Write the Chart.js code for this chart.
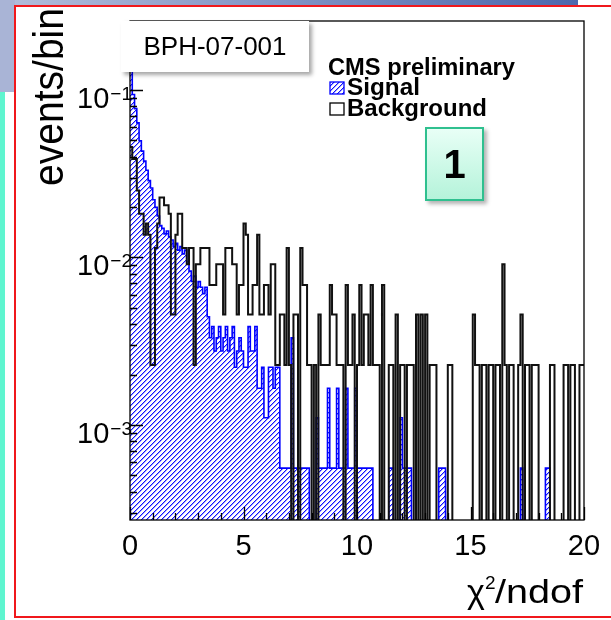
<!DOCTYPE html>
<html>
<head>
<meta charset="utf-8">
<script src="https://cdn.jsdelivr.net/npm/chart.js@4.4.1/dist/chart.umd.min.js"></script>
<style>
  body { margin: 0; width: 611px; height: 620px; overflow: hidden; background: #fff; position: relative;
         font-family: "Liberation Sans", Arial, sans-serif; }
  #topband { position: absolute; left: 0; top: 0; width: 578px; height: 6px;
             background: linear-gradient(90deg, #b3bedb, #4d68ad); }
  #leftband { position: absolute; left: 0; top: 0; width: 15px; height: 92px; background: #a9b4d6; }
  #cyan { position: absolute; left: 0; top: 92px; width: 5px; height: 528px; background: #5ff5cf; }
  #redframe { position: absolute; left: 14px; top: 5px; width: 600px; height: 613px;
              border: 2px solid #f0181c; box-sizing: border-box; }
  canvas { position: absolute; left: 0; top: 0; }
  #tag { position: absolute; left: 121px; top: 21px; width: 188px; height: 51px; background: #fff;
         box-shadow: 3px 3px 4px rgba(0,0,0,0.35); font-size: 26px; line-height: 51px; text-align: center; }
  #num { position: absolute; left: 425px; top: 127px; width: 59px; height: 74px; box-sizing: border-box;
         border: 2px solid #2fc08f; background: linear-gradient(180deg, #e8fff6, #b5f3da);
         box-shadow: 3px 3px 4px rgba(0,0,0,0.3); font-weight: bold; font-size: 40px; line-height: 70px; text-align: center; }
</style>
</head>
<body>
<div id="topband"></div>
<div id="leftband"></div>
<div id="cyan"></div>
<div id="redframe"></div>
<canvas id="histo" width="611" height="620"></canvas>
<div id="tag">BPH-07-001</div>
<div id="num">1</div>
<script>
// histogramme: 200 bins de 0.1 en chi2/ndof, contenus (entrees par bin)
const binWidth = 0.1;
const signalCounts = [
  420,170,140,115,90,78,68,60,52,47, 40,36,32,28,27,25,26,24,23,21,
  22,20,21,19,20,17,15,13,14,12, 13,12,11,12,8,6,7,5,6,7,
  5,6,7,5,6,7,4,5,6,5, 4,4,7,5,5,7,3,3,4,2,
  2,4,4,3,4,4,1,1,1,1, 1,6,1,1,1,1,1,1,1,0,
  0,0,2,1,1,1,1,3,1,1, 1,3,1,1,1,3,1,1,1,3,
  1,1,1,1,1,1,1,0,0,0, 0,0,0,0,1,1,0,0,0,2,
  1,1,1,1,0,0,0,0,0,0, 0,0,0,0,0,0,1,1,1,0,
  0,0,0,0,0,0,0,0,0,0, 0,0,0,0,0,0,0,0,0,0,
  0,0,0,0,0,0,0,0,0,0, 0,0,1,0,0,0,0,0,0,0,
  0,0,0,1,1,0,0,0,0,0, 0,0,0,0,0,0,0,0,0,0
];
const backgroundCounts = [
  20,17,17,11,8,8,6,7,6,1, 1,5,7,10,10,9,9,8,2,2,
  6,8,8,5,5,4,5,5,1,4, 4,5,5,5,5,3,3,3,4,4,
  4,2,5,5,5,4,4,2,3,3, 7,6,2,2,3,3,6,2,2,3,
  3,2,4,4,1,1,2,2,1,5, 1,0,2,2,0,5,3,3,1,1,
  0,1,0,2,1,1,1,1,3,2, 2,1,1,1,0,3,1,1,2,0,
  1,3,1,2,2,1,3,1,1,1, 0,3,0,0,1,1,0,2,0,1,
  1,0,1,1,1,0,2,0,2,0, 2,0,1,1,1,0,0,0,0,0,
  1,1,0,0,0,0,0,0,0,0, 0,2,1,1,0,1,1,0,1,1,
  0,1,1,0,4,1,0,1,1,0, 0,1,2,0,1,1,0,1,1,1,
  0,0,0,0,0,1,1,0,0,0, 0,1,1,0,1,1,0,0,1,1
];
// poids d'une entree (normalisation a l'unite)
const signalWeight = 5.53e-4;
const backgroundWeight = 2.28e-3;

const xTicks = [0, 5, 10, 15, 20];
const yDecades = [-3, -2, -1];
const yMin = 2.71e-4;
const yMax = 0.258;
const emptyBin = 1e-6;

function toSteps(counts, w) {
  let pts = counts.map((c, i) => ({ x: i * binWidth, y: c > 0 ? c * w : emptyBin }));
  pts.push({ x: counts.length * binWidth, y: pts[pts.length - 1].y });
  return pts;
}

// hachures "/" bleues, pixel par pixel
function hatch() {
  const s = 5;
  const c = document.createElement('canvas');
  c.width = s; c.height = s;
  const g = c.getContext('2d');
  for (let i = 0; i < s; i++) {
    for (let j = 0; j < s; j++) {
      const k = (i + j) % s;
      if (k === 0) { g.fillStyle = '#1010ff'; g.fillRect(i, j, 1, 1); }
      else if (k === 1) { g.fillStyle = '#a0a0ff'; g.fillRect(i, j, 1, 1); }
    }
  }
  return g.createPattern(c, 'repeat');
}

const FONT = '"Liberation Sans", Arial, sans-serif';

// texte ecrit a une largeur donnee
function fitText(ctx, txt, x, y, width) {
  const w = ctx.measureText(txt).width;
  ctx.save();
  ctx.translate(x, y);
  ctx.scale(width / w, 1);
  ctx.fillText(txt, 0, 0);
  ctx.restore();
}

const decor = {
  id: 'decor',
  afterDatasetsDraw(chart) {
    const { ctx, chartArea: a, scales: { x, y } } = chart;
    ctx.save();
    ctx.strokeStyle = '#000';
    ctx.lineWidth = 1.3;
    ctx.strokeRect(a.left, a.top, a.right - a.left, a.bottom - a.top);
    // graduations y (log)
    ctx.beginPath();
    for (let e = -4; e <= 0; e++) {
      for (let m = 1; m <= 9; m++) {
        const v = m * Math.pow(10, e);
        if (v < yMin || v > yMax) continue;
        const py = Math.round(y.getPixelForValue(v)) + 0.5;
        const len = m === 1 ? 13 : 7;
        ctx.moveTo(a.left, py); ctx.lineTo(a.left + len, py);
      }
    }
    // graduations x
    for (let t = 0; t <= 20; t++) {
      const px = Math.round(x.getPixelForValue(t)) + 0.5;
      const len = t % 5 === 0 ? 13 : 7;
      ctx.moveTo(px, a.bottom); ctx.lineTo(px, a.bottom - len);
    }
    ctx.stroke();
    ctx.restore();
  },
  afterDraw(chart) {
    const { ctx, chartArea: a, scales: { y } } = chart;
    ctx.save();
    ctx.fillStyle = '#000';
    ctx.textBaseline = 'alphabetic';
    // etiquettes 10^n
    yDecades.forEach(e => {
      const py = y.getPixelForValue(Math.pow(10, e));
      ctx.font = '19px ' + FONT;
      ctx.textAlign = 'right';
      const ex = '\u2212' + (-e);
      const ew = ctx.measureText(ex).width;
      ctx.fillText(ex, a.left + 2, py + 10);
      ctx.font = '29px ' + FONT;
      ctx.fillText('10', a.left + 1 - ew, py + 18);
    });
    // titre x, cale a droite sur le cadre
    ctx.textAlign = 'left';
    ctx.font = '34px ' + FONT;
    ctx.fillText('\u03c7', 467, 603);
    ctx.font = '19px ' + FONT;
    ctx.fillText('2', 485, 589);
    ctx.font = '34px ' + FONT;
    fitText(ctx, '/ndof', 495, 603, 88);
    // titre y
    ctx.save();
    ctx.translate(63, 8);
    ctx.rotate(-Math.PI / 2);
    ctx.textAlign = 'left';
    ctx.font = '42px ' + FONT;
    fitText(ctx, 'events/bin', -178, 0, 178);
    ctx.restore();
    // legende
    ctx.textAlign = 'left';
    ctx.font = 'bold 23px ' + FONT;
    fitText(ctx, 'CMS preliminary', 328, 75, 187);
    fitText(ctx, 'Signal', 347, 95, 73);
    fitText(ctx, 'Background', 347, 116, 140);
    ctx.fillStyle = hatch();
    ctx.fillRect(330, 82, 14, 12);
    ctx.lineWidth = 1.3;
    ctx.strokeStyle = '#0000ff';
    ctx.strokeRect(330, 82, 14, 12);
    ctx.strokeStyle = '#000';
    ctx.strokeRect(330, 103, 14, 12);
    ctx.restore();
  }
};

new Chart(document.getElementById('histo'), {
  type: 'line',
  data: {
    datasets: [
      {
        label: 'Background',
        data: toSteps(backgroundCounts, backgroundWeight),
        stepped: true,
        borderColor: '#111',
        borderWidth: 2,
        pointRadius: 0,
        fill: false,
        order: 0
      },
      {
        label: 'Signal',
        data: toSteps(signalCounts, signalWeight),
        stepped: true,
        borderColor: '#0000ff',
        borderWidth: 1.6,
        pointRadius: 0,
        fill: 'start',
        backgroundColor: hatch(),
        order: 1
      }
    ]
  },
  options: {
    responsive: false,
    animation: false,
    devicePixelRatio: 1,
    layout: { padding: { left: 130, top: 21, right: 27, bottom: 0 } },
    plugins: { legend: { display: false }, tooltip: { enabled: false } },
    scales: {
      x: {
        type: 'linear', min: 0, max: 20,
        grid: { display: false },
        border: { display: false },
        ticks: { stepSize: 5, color: '#000', font: { size: 29, family: FONT }, padding: 2, maxRotation: 0,
                 callback: v => xTicks.includes(v) ? String(v) : null },
        afterFit: s => { s.height = 100; }
      },
      y: {
        type: 'logarithmic', min: yMin, max: yMax,
        display: false
      }
    }
  },
  plugins: [decor]
});
</script>
</body>
</html>
